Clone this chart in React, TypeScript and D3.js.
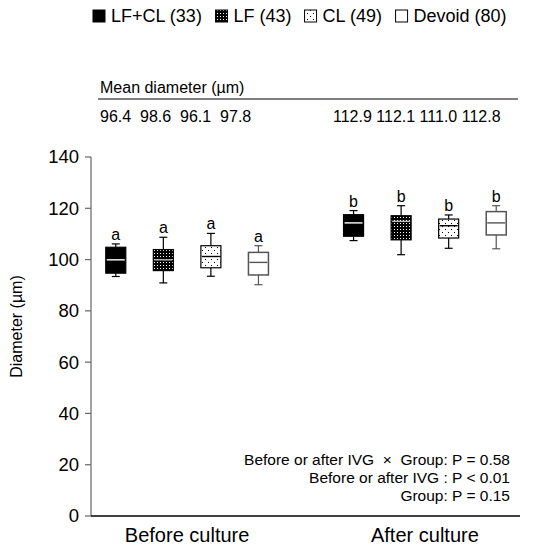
import React from "react";
import * as d3 from "d3";

// groups and sample sizes
const groups = ["LF+CL", "LF", "CL", "Devoid"];
const groupN = [33, 43, 49, 80];
const stages = ["Before culture", "After culture"];

// mean diameter table
const meanBefore = [96.4, 98.6, 96.1, 97.8];
const meanAfter = [112.9, 112.1, 111.0, 112.8];

// box stats: [whisker low, q1, median, q3, whisker high]
const boxBefore = [
  [93.4, 94.7, 99.9, 104.8, 106.1],
  [90.9, 95.7, 99.9, 103.9, 108.7],
  [93.5, 96.8, 101.2, 105.4, 110.2],
  [90.2, 94.0, 98.9, 102.8, 105.4],
];
const boxAfter = [
  [107.4, 109.1, 114.3, 117.5, 119.1],
  [101.9, 107.7, 114.9, 117.1, 121.0],
  [104.4, 108.4, 113.2, 115.8, 117.4],
  [104.2, 109.6, 114.3, 118.7, 121.0],
];
const lettersBefore = ["a", "a", "a", "a"];
const lettersAfter = ["b", "b", "b", "b"];

const yTicks = [0, 20, 40, 60, 80, 100, 120, 140];

const statLines = [
  "Before or after IVG  \u00d7  Group: P = 0.58",
  "Before or after IVG : P < 0.01",
  "Group: P = 0.15",
];

const FONT = "'Liberation Sans', Arial, Helvetica, sans-serif";

const W = 537;
const H = 548;

// fill / stroke per group
const fills = ["#000", "url(#patLF)", "url(#patCL)", "#fff"];
const strokes = ["#000", "#000", "#000", "#555"];
const medianColors = ["#fff", "#bbb", "#000", "#555"];

function measure(text: string, font: string) {
  const c = document.createElement("canvas").getContext("2d");
  if (!c) return text.length * 9;
  c.font = font;
  return c.measureText(text).width;
}

export default function App() {
  const y = d3.scaleLinear().domain([0, 140]).range([516, 157]);
  const slots = d3.scaleBand<number>().domain(d3.range(9)).range([92, 520]);
  const boxW = 20;
  const slotCenter = (s: number, g: number) => (slots(s * 5 + g) as number) + slots.bandwidth() / 2;

  const allBoxes = [boxBefore, boxAfter];
  const allLetters = [lettersBefore, lettersAfter];

  // legend layout
  const legendFont = `18px ${FONT}`;
  const legendLabels = groups.map((g, i) => `${g} (${groupN[i]})`);
  let lx = 93;
  const legendItems = legendLabels.map((label, i) => {
    const item = { label, x: lx, i };
    lx += 13 + 5 + measure(label, legendFont) + 13;
    return item;
  });

  return (
    <svg
      width={W}
      height={H}
      style={{ position: "absolute", left: 0, top: 0, background: "#fff" }}
      fontFamily={FONT}
    >
      <defs>
        <pattern id="patLF" width="3" height="3" patternUnits="userSpaceOnUse">
          <rect width="3" height="3" fill="#000" />
          <rect x="1" y="1" width="1" height="1" fill="#fff" />
        </pattern>
        <pattern id="patCL" width="6" height="6" patternUnits="userSpaceOnUse">
          <rect width="6" height="6" fill="#fff" />
          <rect x="1" y="1" width="1" height="1" fill="#000" />
          <rect x="4" y="4" width="1" height="1" fill="#000" />
        </pattern>
      </defs>

      {/* legend */}
      {legendItems.map((it) => (
        <g key={it.label}>
          <rect x={it.x} y={10} width={12} height={12} fill={fills[it.i]} stroke="#000" strokeWidth={1} />
          <text x={it.x + 18} y={22} fontSize={18}>
            {it.label}
          </text>
        </g>
      ))}

      {/* mean diameter table */}
      <text x={100} y={93} fontSize={16}>
        Mean diameter (µm)
      </text>
      <line x1={98} x2={518} y1={99} y2={99} stroke="#000" strokeWidth={1} />
      <text x={100} y={122} fontSize={16} style={{ whiteSpace: "pre" }}>
        {meanBefore.map((v) => v.toFixed(1)).join("  ")}
      </text>
      <text x={333} y={122} fontSize={16} style={{ whiteSpace: "pre" }}>
        {meanAfter.map((v) => v.toFixed(1)).join(" ")}
      </text>

      {/* y axis */}
      <line x1={91} x2={91} y1={y(140)} y2={y(0)} stroke="#666" strokeWidth={1.2} />
      {yTicks.map((t) => (
        <g key={t}>
          <line x1={85} x2={91} y1={y(t)} y2={y(t)} stroke="#666" strokeWidth={1.2} />
          <text x={79} y={y(t)} dy="0.35em" textAnchor="end" fontSize={18.5}>
            {t}
          </text>
        </g>
      ))}
      <text
        transform={`translate(22,${(y(140) + y(0)) / 2 - 10}) rotate(-90)`}
        textAnchor="middle"
        fontSize={16}
      >
        Diameter (µm)
      </text>

      {/* x axis */}
      <line x1={91} x2={520} y1={y(0)} y2={y(0)} stroke="#000" strokeWidth={1.3} />
      {stages.map((s, si) => {
        const cx = d3.mean(groups.map((_, g) => slotCenter(si, g))) as number;
        return (
          <text key={s} x={cx} y={542} textAnchor="middle" fontSize={20}>
            {s}
          </text>
        );
      })}

      {/* boxes */}
      {allBoxes.map((set, si) =>
        set.map((b, g) => {
          const cx = slotCenter(si, g);
          const [lo, q1, med, q3, hi] = b;
          const st = strokes[g];
          return (
            <g key={`${si}-${g}`}>
              <line x1={cx} x2={cx} y1={y(lo)} y2={y(q1)} stroke={st} strokeWidth={1.2} />
              <line x1={cx} x2={cx} y1={y(q3)} y2={y(hi)} stroke={st} strokeWidth={1.2} />
              <line x1={cx - 4} x2={cx + 4} y1={y(lo)} y2={y(lo)} stroke={st} strokeWidth={1.2} />
              <line x1={cx - 4} x2={cx + 4} y1={y(hi)} y2={y(hi)} stroke={st} strokeWidth={1.2} />
              <rect
                x={cx - boxW / 2}
                y={y(q3)}
                width={boxW}
                height={y(q1) - y(q3)}
                fill={fills[g]}
                stroke={st}
                strokeWidth={g === 3 ? 1.5 : 1.2}
              />
              <line
                x1={cx - boxW / 2 + 1}
                x2={cx + boxW / 2 - 1}
                y1={y(med)}
                y2={y(med)}
                stroke={medianColors[g]}
                strokeWidth={1.4}
              />
              <text x={cx} y={y(hi) - 4} textAnchor="middle" fontSize={16}>
                {allLetters[si][g]}
              </text>
            </g>
          );
        })
      )}

      {/* statistics */}
      {statLines.map((l, i) => (
        <text key={l} x={510} y={465 + i * 18} textAnchor="end" fontSize={15.5} style={{ whiteSpace: "pre" }}>
          {l}
        </text>
      ))}
    </svg>
  );
}
